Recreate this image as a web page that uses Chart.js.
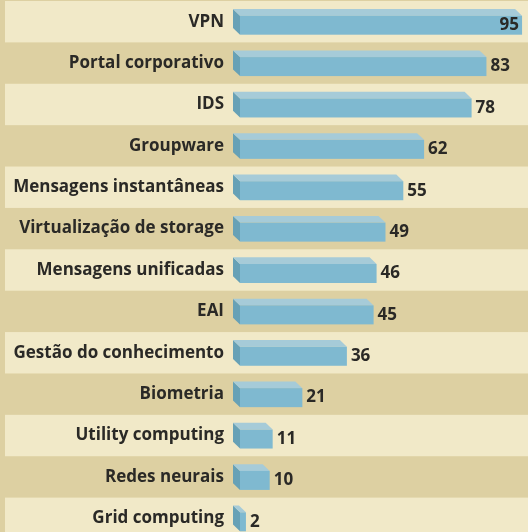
<!DOCTYPE html>
<html>
<head>
<meta charset="utf-8">
<script src="https://cdn.jsdelivr.net/npm/chart.js@4"></script>
<style>
  html, body { margin: 0; padding: 0; overflow: hidden; background: #ddd0a2; }
  #wrap { width: 528px; height: 540px; position: relative; }
</style>
</head>
<body>
<div id="wrap"><canvas id="chart"></canvas></div>
<script>
const categories = [
  "VPN", "Portal corporativo", "IDS", "Groupware", "Mensagens instantâneas",
  "Virtualização de storage", "Mensagens unificadas", "EAI",
  "Gestão do conhecimento", "Biometria", "Utility computing",
  "Redes neurais", "Grid computing"
];
const values = [95, 83, 78, 62, 55, 49, 46, 45, 36, 21, 11, 10, 2];

const FONT = "'Open Sans', 'Noto Sans', sans-serif";

// alternating row bands
const rowBands = {
  id: "rowBands",
  beforeDraw(chart) {
    const ctx = chart.ctx;
    const y = chart.scales.y;
    const band = (chart.chartArea.bottom - chart.chartArea.top) / categories.length;
    ctx.save();
    ctx.fillStyle = "#ddd0a2";
    ctx.fillRect(0, 0, chart.width, chart.height);
    ctx.fillStyle = "#f1e9c8";
    categories.forEach((c, i) => {
      if (i % 2 === 0) {
        const cy = y.getPixelForValue(i);
        ctx.fillRect(5, cy - band / 2, chart.width - 5, band);
      }
    });
    ctx.restore();
  }
};

// 3D boxes + value labels
const boxes = {
  id: "boxes",
  afterDatasetsDraw(chart) {
    const ctx = chart.ctx;
    const meta = chart.getDatasetMeta(0);
    const dx = 7, dy = 6.7;
    ctx.save();
    meta.data.forEach((bar, i) => {
      const x0 = bar.base, x1 = bar.x;
      const top = bar.y - 6, bot = bar.y + 13;

      ctx.fillStyle = "#67a1b6";
      ctx.beginPath();
      ctx.moveTo(x0 - dx, top - dy);
      ctx.lineTo(x0, top);
      ctx.lineTo(x0, bot);
      ctx.lineTo(x0 - dx, bot - dy);
      ctx.closePath();
      ctx.fill();

      ctx.fillStyle = "#a6cbd8";
      ctx.beginPath();
      ctx.moveTo(x0 - dx, top - dy);
      ctx.lineTo(x1 - dx, top - dy);
      ctx.lineTo(x1, top);
      ctx.lineTo(x0, top);
      ctx.closePath();
      ctx.fill();

      ctx.fillStyle = "#7fb9d0";
      ctx.fillRect(x0, top, x1 - x0, bot - top);

      const txt = String(values[i]);
      ctx.font = "bold 17px " + FONT;
      ctx.fillStyle = "#2a2926";
      ctx.textBaseline = "middle";
      const w = ctx.measureText(txt).width;
      if (x1 + 4 + w > chart.width - 2) {
        ctx.textAlign = "right";
        ctx.fillText(txt, x1 - 3, bar.y + 3.5);
      } else {
        ctx.textAlign = "left";
        ctx.fillText(txt, x1 + 4, bar.y + 3.5);
      }
    });
    ctx.restore();
  }
};

new Chart(document.getElementById("chart"), {
  type: "bar",
  data: {
    labels: categories,
    datasets: [{
      data: values,
      backgroundColor: "rgba(0,0,0,0)",
      barThickness: 19
    }]
  },
  options: {
    indexAxis: "y",
    responsive: true,
    maintainAspectRatio: false,
    animation: false,
    layout: { padding: { top: 1, bottom: 1, left: 0, right: 0 } },
    plugins: { legend: { display: false }, tooltip: { enabled: false } },
    scales: {
      x: { display: false, min: 0, max: 97 },
      y: {
        grid: { display: false, drawTicks: false },
        border: { display: false },
        ticks: {
          padding: 16,
          color: "#2a2926",
          font: { family: FONT, size: 17, weight: "bold" }
        },
        afterFit(scale) {
          scale.width = 240;
          scale.paddingTop = 0;
          scale.paddingBottom = 0;
        }
      }
    }
  },
  plugins: [rowBands, boxes]
});
</script>
</body>
</html>
